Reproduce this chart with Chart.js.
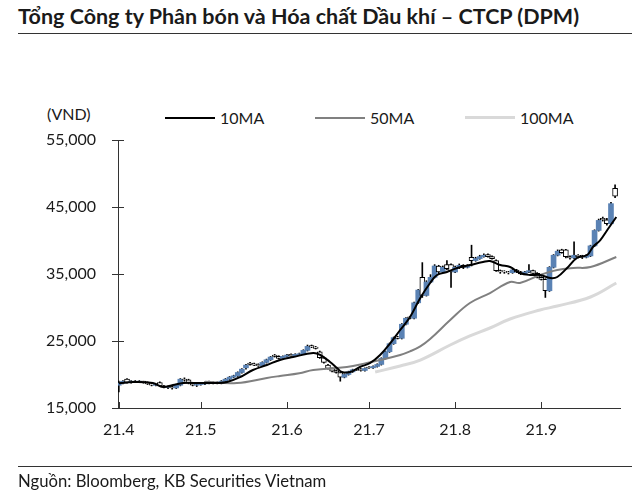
<!DOCTYPE html>
<html>
<head>
<meta charset="utf-8">
<script src="https://cdn.jsdelivr.net/npm/chart.js@4.4.0/dist/chart.umd.min.js"></script>
<style>
  body { margin: 0; width: 640px; height: 496px; position: relative; background: #fff;
         font-family: Lato, "Noto Sans", sans-serif; color: #1a1a1a; overflow: hidden; }
  #title { position: absolute; left: 18px; top: 3px; font-size: 21.5px; font-weight: bold; white-space: nowrap; }
  .rule { position: absolute; left: 18px; width: 614px; height: 0; border-top: 1.5px solid #333; }
  .txt { position: absolute; font-size: 16px; white-space: nowrap; line-height: 18px; }
  .key { position: absolute; height: 0; width: 50px; }
  #source { position: absolute; left: 18px; top: 471px; font-size: 16.7px; white-space: nowrap; }
  #chart { position: absolute; left: 0; top: 0; }
</style>
</head>
<body>
<div id="title">Tổng Công ty Phân bón và Hóa chất Dầu khí – CTCP (DPM)</div>
<div class="rule" style="top:33px"></div>

<div class="txt" style="left:47px; top:105px">(VND)</div>
<div class="key" style="left:165px; top:117px; border-top:2px solid #000"></div>
<div class="txt" style="left:220px; top:109px">10MA</div>
<div class="key" style="left:315px; top:117px; border-top:2px solid #808080"></div>
<div class="txt" style="left:370px; top:109px">50MA</div>
<div class="key" style="left:465px; top:116px; border-top:3px solid #d9d9d9"></div>
<div class="txt" style="left:520px; top:109px">100MA</div>

<canvas id="chart" width="640" height="496"></canvas>

<div class="rule" style="top:466px"></div>
<div id="source">Nguồn: Bloomberg, KB Securities Vietnam</div>

<script>
// month tick labels and the trading-day index where each month starts
const monthLabels = ["21.4", "21.5", "21.6", "21.7", "21.8", "21.9"];
const monthStartDay = [0, 20, 41, 61, 82, 103];

// daily candles (VND)
const openPx = [
  18400,18700,19300,18800,19000,18900,19000,18800,18600,18400,
  18800,18300,18100,18200,18000,18400,19300,19200,18700,18400,
  18500,18600,18800,18700,18800,18700,19000,19300,19600,19800,
  20300,21000,21700,21600,21500,21300,21800,22200,22900,22700,
  22400,22700,23000,22800,23000,23100,23600,24300,24100,23400,
  22500,21400,20900,20600,20300,19600,20000,20400,20800,20800,
  20600,21100,21000,21200,21500,22400,23400,24600,25600,25400,
  27500,28600,28400,30700,34500,31800,33800,34500,36200,35300,
  36400,36400,35300,36000,36300,36000,37500,37000,37300,37600,
  37900,37600,37000,35500,35400,35300,35200,35600,35300,35000,
  35300,35500,35100,34500,34200,32500,36000,37800,38600,38600,
  37600,37400,37800,37600,37500,37700,39200,41500,43300,43100,
  42500,47800
];
const highPx = [
  19000,19100,19400,19100,19100,19100,19000,18900,18700,18600,
  18900,18400,18300,18300,18500,19400,19500,19300,18800,18600,
  18700,18900,19000,18900,18900,19100,19400,19700,19900,20400,
  20900,21500,21800,21700,21600,21900,22300,22700,23000,22800,
  22800,23000,23100,23100,23200,23700,24400,24400,24200,23500,
  22600,21500,21000,20700,20300,20100,20500,20800,20900,20900,
  21000,21200,21300,21600,22500,23500,24700,25600,25700,27600,
  28500,28700,30800,32700,36700,34000,34900,36400,36300,36200,
  37000,36500,36200,36500,36400,36400,39300,37500,37800,38000,
  38000,37700,37100,35600,35500,35400,35700,35700,35400,35400,
  36400,35600,35200,34600,34300,36100,37900,38600,38700,38700,
  37700,39800,37900,37800,37900,39300,41600,43200,43500,43300,
  45700,48300
];
const lowPx = [
  17400,18600,18700,18700,18800,18800,18700,18500,18300,18300,
  18200,18000,17900,17800,17900,18300,19000,18600,18300,18200,
  18400,18500,18600,18600,18600,18600,18900,19200,19500,19700,
  20200,20800,21400,21300,21200,21200,21700,22100,22600,22300,
  22300,22600,22700,22700,22900,23000,23500,24000,23800,22400,
  21700,20800,20400,20200,19000,19500,19900,20300,20600,20500,
  20500,20900,20900,21100,21400,22300,23300,24500,25300,25300,
  27400,28300,28300,30600,31500,31700,33700,34400,35000,35200,
  35600,33000,35200,35800,35800,35900,36200,36900,37200,37500,
  37500,37200,35400,35100,35100,35000,35100,35200,34900,34900,
  35200,35000,34400,34100,31500,32400,35900,37700,38100,37400,
  37200,37300,37400,37300,37400,37600,39100,41400,42900,42300,
  42400,46400
];
const closePx = [
  18700,19000,18800,19000,18900,19000,18800,18600,18400,18500,
  18300,18100,18200,18000,18400,19300,19200,18700,18400,18500,
  18600,18800,18700,18800,18700,19000,19300,19600,19800,20300,
  20800,21400,21500,21400,21300,21800,22200,22600,22700,22400,
  22700,22900,22800,23000,23100,23600,24200,24100,23900,22500,
  21800,20900,20500,20300,19600,20000,20400,20700,20700,20600,
  20900,21000,21200,21500,22400,23400,24600,25500,25400,27500,
  28400,28400,30700,32600,31800,33800,34500,36200,35300,36000,
  35800,35300,36000,36300,36000,36200,37000,37300,37600,37800,
  37600,37300,35500,35300,35300,35200,35600,35300,35000,35300,
  35500,35100,34500,34200,32500,36000,37800,38400,38200,37600,
  37400,37800,37600,37500,37700,39200,41500,43000,43100,42500,
  45500,46600
];

// moving averages, sampled along each line (day index, VND)
const ma10Day = [0, 3.5, 8.3, 10.8, 13.2, 15.7, 19.8, 24, 26.4, 29.6, 32.7, 36.1, 39.3, 42.5, 47.4, 49.1,
                 51.5, 53.2, 54.4, 56.4, 58.8, 61.3, 63.7, 66.2, 68.6, 71, 73.5, 75.9, 77.6, 80, 82.5,
                 85.6, 88.8, 90.5, 93, 95.4, 97.8, 100.3, 102.7, 105.2, 106.9, 109.3, 111.7, 114.2,
                 115.6, 117.4, 119.1, 121.3];
const ma10 = [18700, 18880, 18730, 18130, 18430, 18730, 18730, 18730, 18880, 19630, 20670, 21420, 22160,
              22610, 23210, 22910, 21870, 20970, 20370, 20370, 21120, 21720, 22910, 24700, 26640, 28580,
              31420, 33660, 34850, 35300, 35900, 36340, 36790, 36940, 36340, 36040, 35150, 34850, 34850,
              34400, 34550, 35900, 37390, 37840, 39030, 40070, 41570, 43510];

const ma50Day = [21, 28.8, 36.1, 39.3, 44, 47.4, 55.6, 60.5, 63.7, 68.6, 71, 73.5, 75.9, 80.8, 85.6, 90.5,
                 95.4, 97.8, 102.7, 106.9, 110.8, 115, 121.3];
const ma50 = [18900, 18730, 19480, 19780, 20200, 20670, 21120, 21720, 22160, 22910, 23450, 24200, 25300,
              28130, 30670, 32160, 33810, 33660, 34850, 35600, 35900, 36040, 37540];

const ma100Day = [62.5, 68.6, 73.5, 80.8, 85.6, 90.5, 95.4, 102.7, 106.9, 115, 121.3];
const ma100 = [20370, 21270, 22160, 24400, 25750, 26940, 28280, 29630, 30220, 31570, 33660];

const upColor = "#5a82b4";

const tickMarks = {
  id: "tickMarks",
  beforeDatasetsDraw(chart) {
    const { ctx, scales: { x, y } } = chart;
    ctx.save();
    ctx.strokeStyle = "#333";
    ctx.lineWidth = 1;
    ctx.beginPath();
    y.ticks.forEach(t => {
      const py = Math.round(y.getPixelForValue(t.value)) + 0.5;
      ctx.moveTo(x.left - 6, py);
      ctx.lineTo(x.left + 6, py);
    });
    x.ticks.forEach(t => {
      const px = Math.round(x.getPixelForValue(t.value)) + 0.5;
      ctx.moveTo(px, y.bottom);
      ctx.lineTo(px, y.bottom - 6);
    });
    ctx.stroke();
    ctx.restore();
  }
};

Chart.defaults.font.family = "Lato, 'Noto Sans', sans-serif";
Chart.defaults.color = "#1a1a1a";

const wicks = lowPx.map((l, i) => ({ x: i, y: [l, highPx[i]] }));
const bodies = openPx.map((o, i) => ({ x: i, y: [o, closePx[i]] }));
const toPoints = (days, vals) => days.map((d, i) => ({ x: d, y: vals[i] }));

new Chart(document.getElementById("chart"), {
  type: "bar",
  data: {
    datasets: [
      { type: "line", data: toPoints(ma10Day, ma10), borderColor: "#000", borderWidth: 2,
        pointRadius: 0, tension: 0.4, order: 0 },
      { type: "line", data: toPoints(ma50Day, ma50), borderColor: "#808080", borderWidth: 2,
        pointRadius: 0, tension: 0.4, order: 1 },
      { type: "line", data: toPoints(ma100Day, ma100), borderColor: "#d9d9d9", borderWidth: 3,
        pointRadius: 0, tension: 0.4, order: 2 },
      { data: bodies, barThickness: 5, grouped: false, borderSkipped: false, order: 3,
        backgroundColor: c => closePx[c.dataIndex] >= openPx[c.dataIndex] ? upColor : "#fff",
        borderColor: "#000",
        borderWidth: c => closePx[c.dataIndex] >= openPx[c.dataIndex] ? 0 : 1 },
      { data: wicks, barThickness: 1, grouped: false, order: 4, backgroundColor: "#000" }
    ]
  },
  options: {
    responsive: false,
    animation: false,
    layout: { padding: { top: 140, right: 20, bottom: 0, left: 0 } },
    plugins: { legend: { display: false }, tooltip: { enabled: false } },
    scales: {
      x: {
        type: "linear",
        offset: false,
        min: -0.2,
        max: 122.2,
        grid: { display: false, drawTicks: false, offset: false },
        border: { display: true, color: "#333", width: 1 },
        afterBuildTicks: axis => { axis.ticks = monthStartDay.map(v => ({ value: v })); },
        afterFit: axis => { axis.height = 88; },
        ticks: {
          autoSkip: false,
          maxRotation: 0,
          padding: 12,
          font: { size: 16 },
          callback: v => monthLabels[monthStartDay.indexOf(v)]
        }
      },
      y: {
        min: 15000,
        max: 55000,
        grid: { display: false, drawTicks: false },
        border: { display: true, color: "#333", width: 1 },
        afterFit: axis => { axis.width = 118; },
        ticks: {
          stepSize: 10000,
          padding: 22,
          font: { size: 16 },
          callback: v => v.toLocaleString("en-US")
        }
      }
    }
  },
  plugins: [tickMarks]
});
</script>
</body>
</html>
